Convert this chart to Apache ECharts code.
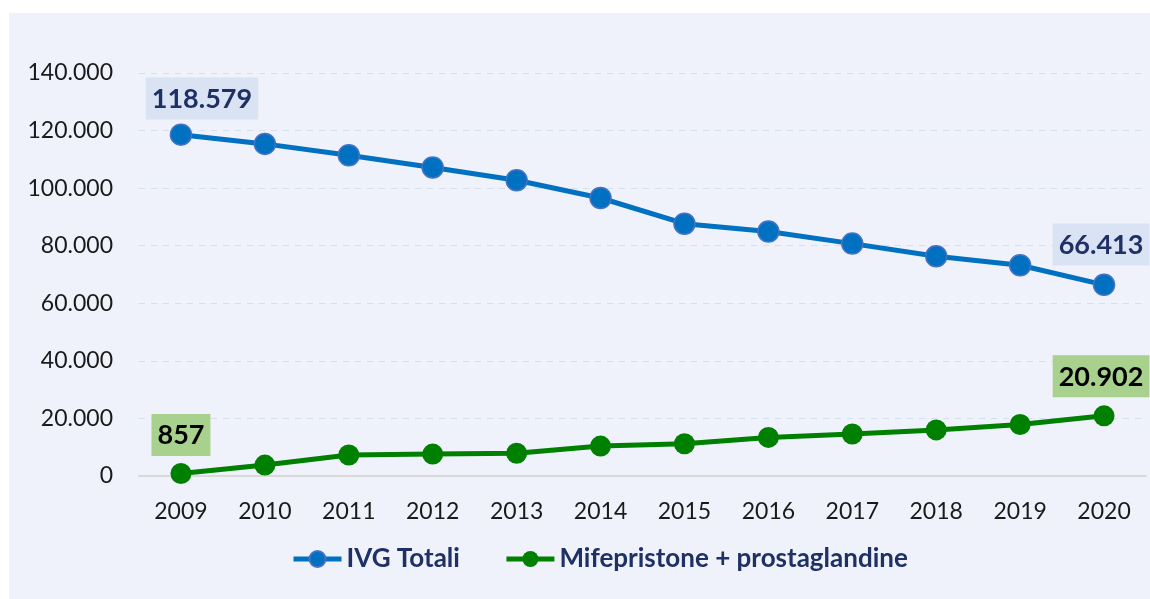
<!DOCTYPE html>
<html>
<head>
<meta charset="utf-8">
<script src="https://cdn.jsdelivr.net/npm/echarts@6/dist/echarts.min.js"></script>
<style>
  html, body { margin: 0; padding: 0; background: #ffffff; }
  #main { width: 1150px; height: 599px; }
</style>
</head>
<body>
<div id="main"></div>
<script>
// dati
var anni = ['2009', '2010', '2011', '2012', '2013', '2014', '2015', '2016', '2017', '2018', '2019', '2020'];
var ivgTotali = [118579, 115372, 111415, 107192, 102760, 96578, 87639, 84926, 80733, 76328, 73207, 66413];
var mifepristone = [857, 3800, 7300, 7600, 7900, 10400, 11200, 13400, 14600, 16000, 17900, 20902];
var nomiSerie = ['IVG Totali', 'Mifepristone + prostaglandine'];

var fontName = 'Lato, "Open Sans", sans-serif';

// formato italiano: 20.000
function fmt(v) {
    return String(v).replace(/\B(?=(\d{3})+(?!\d))/g, '.');
}

// solo primo e ultimo punto con etichetta
function conEtichette(arr, bg, col, offPrimo) {
    var out = [];
    for (var i = 0; i < arr.length; i++) {
        if (i == 0 || i == arr.length - 1) {
            out.push({
                value: arr[i],
                label: {
                    show: true,
                    position: 'top',
                    distance: i == 0 ? offPrimo[1] : 8,
                    offset: i == 0 ? [offPrimo[0], 0] : [-3, 0],
                    formatter: function(p) { return fmt(p.value); },
                    backgroundColor: bg,
                    color: col,
                    fontFamily: fontName,
                    fontWeight: 'bold',
                    fontSize: 27,
                    padding: [8, 6, 7, 6]
                }
            });
        } else {
            out.push(arr[i]);
        }
    }
    return out;
}

var myChart = echarts.init(document.getElementById('main'));
var option = {
    backgroundColor: '#ffffff',
    animation: false,
    graphic: [{
        type: 'rect',
        z: -10,
        shape: { x: 9, y: 13, width: 1141, height: 586 },
        style: { fill: '#eff2fa' }
    }],
    grid: {
        left: 139,
        right: 4,
        top: 73,
        bottom: 123
    },
    legend: {
        bottom: 22,
        left: 286,
        itemWidth: 48,
        itemHeight: 20,
        itemGap: 44,
        lineStyle: { width: 5 },
        textStyle: {
            fontFamily: fontName,
            fontSize: 26,
            fontWeight: 'bold',
            color: '#1f3064'
        },
        data: nomiSerie
    },
    xAxis: {
        type: 'category',
        data: anni,
        boundaryGap: true,
        axisLine: { lineStyle: { color: '#d9d9d9', width: 2 } },
        axisTick: { show: false },
        axisLabel: {
            margin: 24,
            fontFamily: fontName,
            fontSize: 23,
            color: '#1a1a1a'
        }
    },
    yAxis: {
        type: 'value',
        min: 0,
        max: 140000,
        interval: 20000,
        axisLine: { show: false },
        axisTick: { show: false },
        axisLabel: {
            margin: 26,
            fontFamily: fontName,
            fontSize: 23,
            color: '#1a1a1a',
            formatter: fmt
        },
        splitLine: {
            lineStyle: { color: '#d6dfee', type: [6, 6], width: 1 }
        }
    },
    series: [
        {
            name: nomiSerie[0],
            type: 'line',
            data: conEtichette(ivgTotali, '#dae3f3', '#1f3064', [21, 4]),
            symbol: 'circle',
            symbolSize: 21,
            lineStyle: { color: '#0070c0', width: 5 },
            itemStyle: { color: '#0070c0', borderColor: '#4472c4', borderWidth: 1.5 }
        },
        {
            name: nomiSerie[1],
            type: 'line',
            data: conEtichette(mifepristone, '#a9d18e', '#000000', [0, 7]),
            symbol: 'circle',
            symbolSize: 21,
            lineStyle: { color: '#008000', width: 5 },
            itemStyle: { color: '#008000' }
        }
    ]
};
myChart.setOption(option);
</script>
</body>
</html>
